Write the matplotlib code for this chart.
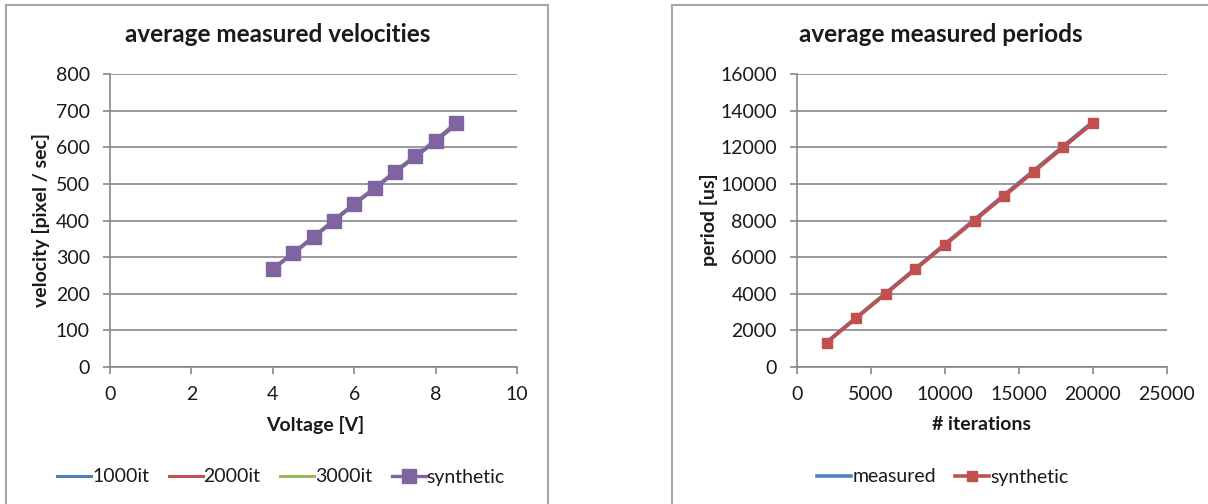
import matplotlib
matplotlib.use("Agg")
import matplotlib.pyplot as plt
from matplotlib.patches import Rectangle

plt.rcParams['font.family'] = ['Lato', 'DejaVu Sans']

# velocity chart data
voltage = [4.0, 4.5, 5.0, 5.5, 6.0, 6.5, 7.0, 7.5, 8.0, 8.5]
vel_1000it = [266, 309, 353, 398, 443, 486, 530, 573, 615, 661]
vel_2000it = [268, 311, 356, 401, 446, 489, 533, 576, 618, 664]
vel_3000it = [269, 312, 356, 402, 447, 490, 535, 578, 621, 668]
vel_synthetic = [268, 311, 355, 400, 445, 488, 532, 575, 618, 665]

# period chart data
iterations = [2000, 4000, 6000, 8000, 10000, 12000, 14000, 16000, 18000, 20000]
period_measured = [1360, 2700, 4040, 5380, 6720, 8060, 9400, 10730, 12070, 13400]
period_synthetic = [1333, 2667, 4000, 5333, 6667, 8000, 9333, 10667, 12000, 13333]

BLUE = '#4F81BD'
RED = '#C0504D'
GREEN = '#9BBB59'
PURPLE = '#8064A2'
GRID = '#888888'
BORDER = '#A6A6A6'
TEXT = '#1A1A1A'

TICK_FS = 14
LABEL_FS = 14
TITLE_FS = 17.5
LEGEND_FS = 14

W, H = 1208, 504
fig = plt.figure(figsize=(W / 100, H / 100), dpi=100)


def px_rect(x0, x1, y_top, y_bot):
    return [x0 / W, 1 - y_bot / H, (x1 - x0) / W, (y_bot - y_top) / H]


def fx(x):
    return x / W


def fy(y):
    return 1 - y / H


# chart frames
for x0, x1 in [(6, 548), (672, 1212)]:
    fig.patches.append(Rectangle((x0 / W, -0.05), (x1 - x0) / W, 1 - 5 / H + 0.05,
                                 transform=fig.transFigure, fill=False,
                                 edgecolor=BORDER, linewidth=1.5))


def style_axes(ax):
    for s in ['top', 'right']:
        ax.spines[s].set_visible(False)
    for s in ['left', 'bottom']:
        ax.spines[s].set_color(GRID)
        ax.spines[s].set_linewidth(1.2)
    ax.yaxis.grid(True, color=GRID, linewidth=1.2)
    ax.set_axisbelow(True)
    ax.tick_params(axis='both', direction='out', length=5, width=1.2,
                   color=GRID, labelsize=TICK_FS, labelcolor=TEXT)
    ax.tick_params(axis='x', pad=9)
    ax.tick_params(axis='y', pad=9.5)


def legend(handles, labels, cx, ncol):
    fig.legend(handles, labels, loc='center', bbox_to_anchor=(fx(cx), fy(477)),
               ncol=ncol, frameon=False, fontsize=LEGEND_FS, handlelength=1.75,
               handletextpad=0.05, columnspacing=1.0, labelcolor=TEXT)


# left: velocities
ax1 = fig.add_axes(px_rect(110, 517, 74, 367))
ax1.plot(voltage, vel_1000it, color=BLUE, lw=2.2, label='1000it')
ax1.plot(voltage, vel_2000it, color=RED, lw=2.2, label='2000it')
ax1.plot(voltage, vel_3000it, color=GREEN, lw=2.2, label='3000it')
ax1.plot(voltage, vel_synthetic, color=PURPLE, lw=2.4, marker='s', ms=9.5,
         label='synthetic')
ax1.set_xlim(0, 10)
ax1.set_ylim(0, 800)
ax1.set_xticks(range(0, 11, 2))
ax1.set_yticks(range(0, 801, 100))
style_axes(ax1)
fig.text(fx(315), fy(425), 'Voltage [V]', ha='center', va='center',
         fontsize=LABEL_FS, fontweight='bold', color=TEXT)
fig.text(fx(41), fy(220), 'velocity [pixel / sec]', ha='center', va='center',
         rotation=90, fontsize=LABEL_FS, fontweight='bold', color=TEXT)
fig.text(fx(278), fy(35), 'average measured velocities', ha='center', va='center',
         fontsize=TITLE_FS, fontweight='bold', color=TEXT)
h, l = ax1.get_legend_handles_labels()
legend(h, l, 281, 4)

# right: periods
ax2 = fig.add_axes(px_rect(797, 1167, 74, 367))
ax2.plot(iterations, period_measured, color=BLUE, lw=2.6, label='measured')
ax2.plot(iterations, period_synthetic, color=RED, lw=2.6, marker='s', ms=7.5,
         label='synthetic')
ax2.set_xlim(0, 25000)
ax2.set_ylim(0, 16000)
ax2.set_xticks(range(0, 25001, 5000))
ax2.set_yticks(range(0, 16001, 2000))
style_axes(ax2)
fig.text(fx(982), fy(425), '# iterations', ha='center', va='center',
         fontsize=LABEL_FS, fontweight='bold', color=TEXT)
fig.text(fx(709), fy(220), 'period [us]', ha='center', va='center',
         rotation=90, fontsize=LABEL_FS, fontweight='bold', color=TEXT)
fig.text(fx(941), fy(35), 'average measured periods', ha='center', va='center',
         fontsize=TITLE_FS, fontweight='bold', color=TEXT)
h, l = ax2.get_legend_handles_labels()
legend(h, l, 943, 2)

fig.savefig('out.png', dpi=100, facecolor='white')
